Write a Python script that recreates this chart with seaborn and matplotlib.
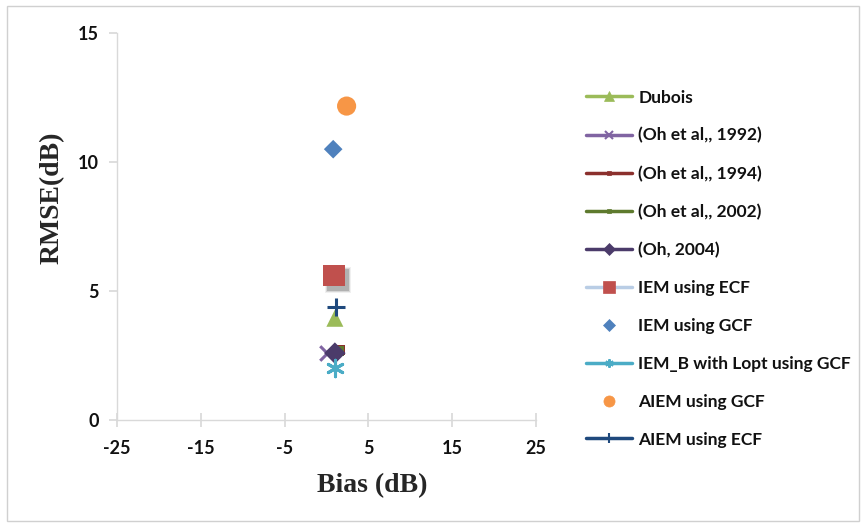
import pandas as pd
import seaborn as sns
import matplotlib.pyplot as plt
import matplotlib.transforms as mtransforms
from matplotlib.lines import Line2D
from matplotlib.patches import Rectangle

# values
models = ['Dubois', '(Oh et al,, 1992)', '(Oh et al,, 1994)', '(Oh et al,, 2002)',
          '(Oh, 2004)', 'IEM using ECF', 'IEM using GCF',
          'IEM_B with Lopt using GCF', 'AIEM using GCF', 'AIEM using ECF']
bias = [1.0, 0.1, 1.6, 1.5, 1.0, 0.9, 0.8, 1.0, 2.4, 1.1]
rmse = [3.95, 2.6, 2.72, 2.68, 2.6, 5.6, 10.5, 2.04, 12.17, 4.39]

colors = ['#9BBB59', '#8064A2', '#8B302D', '#5E7A2E', '#4B3B6A',
          '#C0504D', '#4F81BD', '#4BACC6', '#F79646', '#1F497D']
line_colors = ['#9BBB59', '#8064A2', '#8B302D', '#5E7A2E', '#4B3B6A',
               '#B9CDE5', None, '#4BACC6', None, '#1F497D']
markers = ['^', 'x', 's', 's', 'D', 's', 'D', (6, 2, 0), 'o', '+']
sizes = [150, 110, 60, 60, 120, 240, 90, 140, 190, 160]
leg_ms = [7, 6, 3, 3, 6, 9, 6, 6, 8, 7]

df = pd.DataFrame({'model': models, 'bias': bias, 'rmse': rmse})

sns.set_theme(style="white")
plt.rcParams['font.family'] = ['Lato', 'DejaVu Sans']
plt.rcParams['axes.unicode_minus'] = False

fig = plt.figure(figsize=(8.66, 5.24), dpi=100)
ax = fig.add_axes([0.135, 0.198, 0.484, 0.739])
fig.patches.append(Rectangle((0.008, 0.006), 0.984, 0.982, transform=fig.transFigure,
                             fill=False, edgecolor='#D0D0D0', lw=1))

line_markers = ('x', '+', (6, 2, 0))
for i, m in enumerate(models):
    sub = df[df['model'] == m]
    mk = markers[i]
    if m == 'IEM using ECF':
        # soft drop shadow like the excel marker effect
        shadow = mtransforms.offset_copy(ax.transData, fig=fig, x=3, y=-3, units='points')
        for k, a in [(1.4, 0.08), (1.2, 0.15), (1.0, 0.25)]:
            ax.scatter(sub['bias'], sub['rmse'], marker='s', s=sizes[i] * k, color='#444444',
                       alpha=a, linewidths=0, transform=shadow, zorder=2)
    if mk in line_markers:
        sns.scatterplot(data=sub, x='bias', y='rmse', ax=ax, color=colors[i], marker=mk,
                        s=sizes[i], linewidth=2.2, legend=False, zorder=3 + i)
    else:
        sns.scatterplot(data=sub, x='bias', y='rmse', ax=ax, color=colors[i], marker=mk,
                        s=sizes[i], linewidth=0, edgecolor='none', legend=False, zorder=3 + i)

ax.set_xlim(-25, 25)
ax.set_ylim(0, 15)
ax.set_xticks([-25, -15, -5, 5, 15, 25])
ax.set_yticks([0, 5, 10, 15])
ax.grid(False)
for s in ['top', 'right']:
    ax.spines[s].set_visible(False)
for s in ['left', 'bottom']:
    ax.spines[s].set_color('#D9D9D9')
    ax.spines[s].set_linewidth(1)
ax.tick_params(axis='x', direction='inout', length=10, color='#D9D9D9', pad=9,
               labelsize=13, bottom=True, labelcolor='#111111')
ax.tick_params(axis='y', direction='out', length=6, color='#D9D9D9', pad=7,
               labelsize=13, left=True, labelcolor='#111111')
for lab in ax.get_xticklabels() + ax.get_yticklabels():
    lab.set_fontweight('bold')

ax.set_xlabel('Bias (dB)', fontsize=20, fontweight='bold', family='Liberation Serif')
ax.set_ylabel('RMSE(dB)', fontsize=20, fontweight='bold', family='Liberation Serif')
ax.xaxis.set_label_coords(0.609, -0.137)
ax.yaxis.set_label_coords(-0.124, 0.574)

handles = []
for i, m in enumerate(models):
    mk = markers[i]
    hm = '|' if mk == '+' else mk
    lc = line_colors[i]
    handles.append(Line2D([0], [0], color=lc if lc else 'none', lw=2.5,
                          marker=hm, markersize=leg_ms[i], markerfacecolor=colors[i],
                          markeredgecolor=colors[i],
                          markeredgewidth=1.5 if hm in ('x', '|', (6, 2, 0)) else 0.5))
fig.legend(handles, models, loc='upper left', bbox_to_anchor=(0.659, 0.859),
           frameon=False, handlelength=2.65, handletextpad=0.35,
           labelspacing=1.26, labelcolor='#111111',
           prop={'family': 'Lato', 'weight': 'bold', 'size': 12.5})

plt.savefig('out.png', dpi=100)
